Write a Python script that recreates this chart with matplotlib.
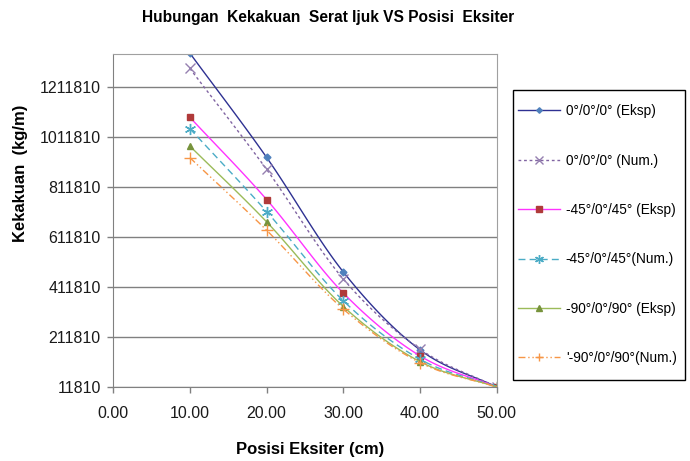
import numpy as np
import matplotlib
matplotlib.use("Agg")
import matplotlib.pyplot as plt
from matplotlib.patches import Rectangle

plt.rcParams['font.family'] = ['Liberation Sans', 'DejaVu Sans']

# data
posisi = [10, 20, 30, 40, 50]
eksp_0 = [1349000, 931500, 472500, 160400, 11810]
num_0 = [1287700, 883300, 444300, 163200, 11810]
eksp_45 = [1092100, 762800, 388100, 136300, 11810]
num_45 = [1046700, 714600, 357200, 123000, 11810]
eksp_90 = [976900, 673300, 334300, 113400, 11810]
num_90 = [930300, 639700, 323800, 109400, 11810]

labels = ['0°/0°/0° (Eksp)', '0°/0°/0° (Num.)', '-45°/0°/45° (Eksp)',
          '-45°/0°/45°(Num.)', '-90°/0°/90° (Eksp)', "'-90°/0°/90°(Num.)"]
yticks = [11810, 211810, 411810, 611810, 811810, 1011810, 1211810]
xticks = [0, 10, 20, 30, 40, 50]


def smooth(x, y, n=30):
    # catmull-rom curve through the points (like excel smoothed line)
    x = np.asarray(x, float)
    y = np.asarray(y, float)
    px = np.concatenate([[2 * x[0] - x[1]], x, [2 * x[-1] - x[-2]]])
    py = np.concatenate([[2 * y[0] - y[1]], y, [2 * y[-1] - y[-2]]])
    xs, ys = [], []
    t = np.linspace(0, 1, n)
    for i in range(1, len(px) - 2):
        for p, out in ((px, xs), (py, ys)):
            p0, p1, p2, p3 = p[i - 1], p[i], p[i + 1], p[i + 2]
            out.extend(0.5 * ((2 * p1) + (-p0 + p2) * t
                              + (2 * p0 - 5 * p1 + 4 * p2 - p3) * t ** 2
                              + (-p0 + 3 * p1 - 3 * p2 + p3) * t ** 3))
    return xs, ys


series = [eksp_0, num_0, eksp_45, num_45, eksp_90, num_90]
styles = [
    dict(color='#2E3192', ls='-', marker='D', ms=3.5, mfc='#4F81BD', mec='#4F81BD'),
    dict(color='#8064A2', ls=(0, (2, 2)), marker='x', ms=7, mfc='#8064A2', mec='#9580B0'),
    dict(color='#FF33FF', ls='-', marker='s', ms=5, mfc='#B03A3A', mec='#B03A3A'),
    dict(color='#4BACC6', ls=(0, (5, 3)), marker=(6, 2, 0), ms=8, mfc='#4BACC6', mec='#4BACC6'),
    dict(color='#9BBB59', ls='-', marker='^', ms=5, mfc='#77933C', mec='#77933C'),
    dict(color='#F79646', ls=(0, (5, 2, 1, 2, 1, 2)), marker='+', ms=8, mfc='#F79646', mec='#F79646'),
]

fig = plt.figure(figsize=(6.9, 4.61), dpi=100)
ax = fig.add_axes([0.164, 0.1605, 0.556, 0.7225])

for y, st, lab in zip(series, styles, labels):
    sx, sy = smooth(posisi, y)
    ax.plot(sx, sy, color=st['color'], ls=st['ls'], lw=1.0)
    ax.plot(posisi, y, ls='none', marker=st['marker'], ms=st['ms'],
            mfc=st['mfc'], mec=st['mec'], mew=1.0)
    ax.plot([], [], color=st['color'], ls=st['ls'], lw=1.0, marker=st['marker'],
            ms=st['ms'] * 0.8, mfc=st['mfc'], mec=st['mec'], label=lab)

ax.set_xlim(0, 50)
ax.set_ylim(11810, 1346000)
ax.set_xticks(xticks)
ax.set_xticklabels(['%.2f' % v for v in xticks])
ax.set_yticks(yticks)
ax.set_yticklabels([str(v) for v in yticks])
ax.tick_params(labelsize=11.5, colors='#808080', labelcolor='#1a1a1a', length=4, width=1)
ax.tick_params(axis='x', pad=10)
ax.tick_params(axis='y', pad=5)
ax.yaxis.grid(True, color='#808080', lw=1)
ax.set_axisbelow(True)
for s in ax.spines.values():
    s.set_color('#A0A0A0')
ax.spines['left'].set_color('#808080')
ax.spines['bottom'].set_color('#808080')

fig.text(0.449, 0.026, 'Posisi Eksiter (cm)', ha='center', va='center',
         fontsize=12, fontweight='bold')
fig.text(0.029, 0.623, 'Kekakuan  (kg/m)', ha='center', va='center', rotation=90,
         fontsize=12, fontweight='bold')
fig.text(0.476, 0.961, 'Hubungan  Kekakuan  Serat Ijuk VS Posisi  Eksiter',
         ha='center', va='center', fontsize=11.2, fontweight='bold')

# legend box
fig.patches.append(Rectangle((0.7435, 0.1757), 0.2493, 0.629, transform=fig.transFigure,
                             fill=False, edgecolor='black', lw=1.0))
leg = fig.legend(loc='upper left', bbox_to_anchor=(0.751, 0.774), fontsize=9.8,
                 labelspacing=2.6, handlelength=3.1, borderpad=0, handletextpad=0.4,
                 borderaxespad=0, frameon=False)

fig.savefig('out.png', dpi=100)
